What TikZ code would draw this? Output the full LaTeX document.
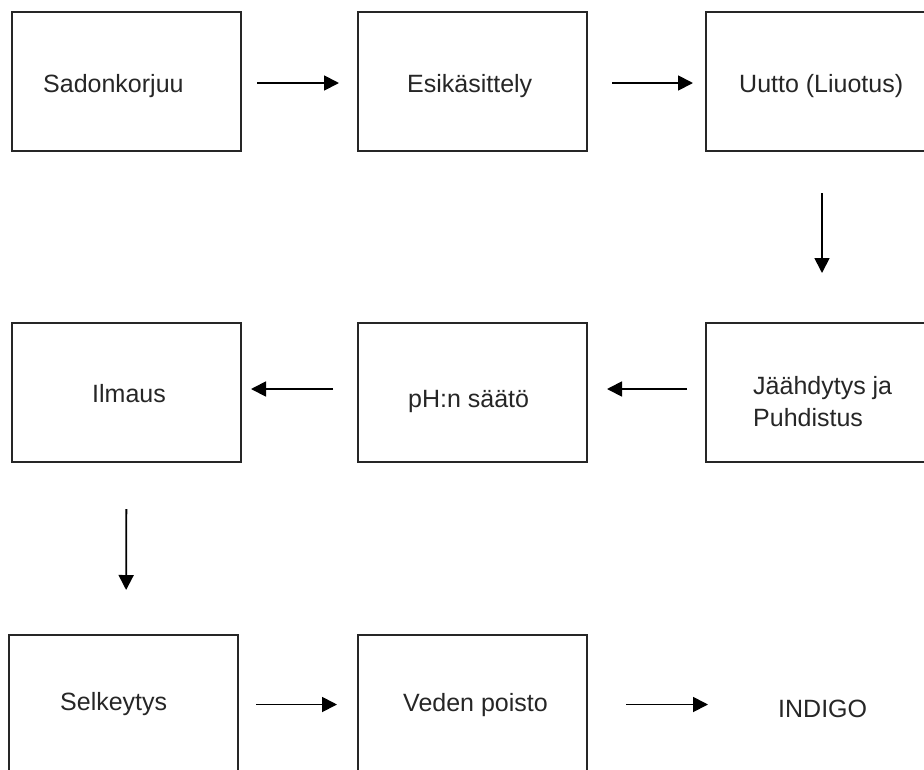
\documentclass[tikz,border=0pt]{standalone}
\usepackage{fontspec}
\setmainfont{Liberation Sans}
\usetikzlibrary{arrows.meta}
\begin{document}
\begin{tikzpicture}[x=1pt,y=-1pt,
  stepbox/.style={draw=black!85,line width=1.8pt,rectangle,minimum width=229pt,minimum height=139pt,inner sep=0pt,outer sep=0pt},
  lbl/.style={anchor=base west,inner sep=0pt,font=\fontsize{25}{32}\selectfont,text=black!85},
  flow/.style={line width=1.8pt,-{Triangle[length=15pt,width=15pt]}}]
\useasboundingbox (0,0) rectangle (924,769);
\clip (0,0) rectangle (924,769);
\fill[white] (0,0) rectangle (924,769);
% row 1
\node[stepbox] (b1) at (126.5,81.5) {};
\node[stepbox] (b2) at (472.5,81.5) {};
\node[stepbox] (b3) at (820.5,81.5) {};
% row 2
\node[stepbox] (b4) at (820.5,392.5) {};
\node[stepbox] (b5) at (472.5,392.5) {};
\node[stepbox] (b6) at (126.5,392.5) {};
% row 3
\node[stepbox] (b7) at (123.5,704.5) {};
\node[stepbox] (b8) at (472.5,704.5) {};
% labels
\node[lbl] (t1) at (43,92) {Sadonkorjuu};
\node[lbl] (t2) at (407,92) {Esikäsittely};
\node[lbl] (t3) at (739,92) {Uutto (Liuotus)};
\node[lbl] (t4a) at (753,394) {Jäähdytys ja};
\node[lbl] (t4b) at (753,426) {Puhdistus};
\node[lbl] (t5) at (408,407) {pH:n säätö};
\node[lbl] (t6) at (92,402) {Ilmaus};
\node[lbl] (t7) at (60,710) {Selkeytys};
\node[lbl] (t8) at (403,711) {Veden poisto};
\node[lbl] (t9) at (778,717) {INDIGO};
% connectors
\draw[flow,shorten <=16pt,shorten >=19pt] ([yshift=-1.5pt]b1.east) -- ([yshift=-1.5pt]b2.west);
\draw[flow,shorten <=25pt,shorten >=13pt] ([yshift=-1.5pt]b2.east) -- ([yshift=-1.5pt]b3.west);
\draw[flow,shorten <=42pt,shorten >=50pt] ([xshift=1.5pt]b3.south) -- ([xshift=1.5pt]b4.north);
\draw[flow,shorten <=19pt,shorten >=20pt] ([yshift=3.5pt]b4.west) -- ([yshift=3.5pt]b5.east);
\draw[flow,shorten <=25pt,shorten >=10pt] ([yshift=3.5pt]b5.west) -- ([yshift=3.5pt]b6.east);
\draw[flow,shorten <=47pt,shorten >=45pt] (b6.south) -- ([xshift=2.5pt]b7.north);
\draw[flow,shorten <=18pt,shorten >=21pt] (b7.east) -- (b8.west);
\draw[flow,shorten <=39pt,shorten >=70pt] (b8.east) -- (b8.east -| t9.west);
\end{tikzpicture}
\end{document}
